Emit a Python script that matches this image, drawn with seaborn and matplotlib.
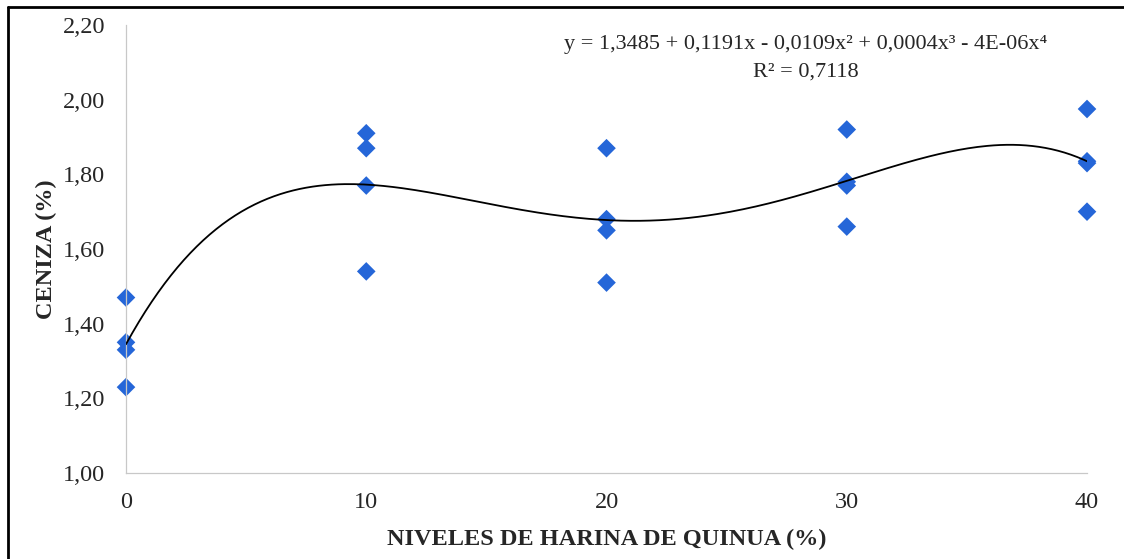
import numpy as np
import pandas as pd
import matplotlib
matplotlib.use("Agg")
import matplotlib.pyplot as plt
import seaborn as sns
from matplotlib.lines import Line2D

# Data
niveles = [0, 0, 0, 0, 10, 10, 10, 10, 20, 20, 20, 20, 30, 30, 30, 30, 40, 40, 40, 40]
ceniza = [1.47, 1.35, 1.33, 1.23,
          1.91, 1.87, 1.77, 1.54,
          1.87, 1.68, 1.65, 1.51,
          1.92, 1.78, 1.77, 1.66,
          1.975, 1.835, 1.83, 1.70]
x_ticks = [0, 10, 20, 30, 40]
y_ticks = [1.00, 1.20, 1.40, 1.60, 1.80, 2.00, 2.20]
equation = "y = 1,3485 + 0,1191x - 0,0109x² + 0,0004x³ - 4E-06x⁴"
r2_text = "R² = 0,7118"
x_label = "NIVELES DE HARINA DE QUINUA (%)"
y_label = "CENIZA (%)"

df = pd.DataFrame({"x": niveles, "y": ceniza})

# polynomial trendline (order 4) fitted to the points
coef = np.polyfit(df["x"], df["y"], 4)
xs = np.linspace(0, 40, 300)
trend = pd.DataFrame({"x": xs, "y": np.polyval(coef, xs)})

sns.set_theme(style="white")
serif = ["Liberation Serif", "DejaVu Serif"]
plt.rcParams["font.family"] = serif

fig = plt.figure(figsize=(11.24, 5.59), dpi=100)
ax = fig.add_axes([0.1121, 0.1538, 0.8550, 0.8015])

sns.lineplot(data=trend, x="x", y="y", ax=ax, color="black", linewidth=1.3, zorder=3)
sns.scatterplot(data=df, x="x", y="y", ax=ax, marker="D", s=90,
                color="#2566D8", edgecolor="none", zorder=2, clip_on=False)

ax.set_xlim(0, 40)
ax.set_ylim(1.0, 2.2)
ax.set_xticks(x_ticks)
ax.set_yticks(y_ticks)
ax.set_xticklabels([str(v) for v in x_ticks], fontsize=17.5, color="#262626")
ax.set_yticklabels([f"{v:.2f}".replace(".", ",") for v in y_ticks], fontsize=17.5, color="#262626")
ax.tick_params(axis="both", length=0)
ax.tick_params(axis="y", pad=15)
ax.tick_params(axis="x", pad=14)

for s in ["top", "right"]:
    ax.spines[s].set_visible(False)
for s in ["left", "bottom"]:
    ax.spines[s].set_color("#C8C8C8")
    ax.spines[s].set_linewidth(0.9)

ax.set_xlabel(x_label, fontsize=17.5, fontweight="bold", labelpad=11)
ax.set_ylabel(y_label, fontsize=17.5, fontweight="bold", labelpad=4)

fig.text(806 / 1124, 1 - 45 / 559, equation, ha="center", va="center", fontsize=16)
fig.text(806 / 1124, 1 - 72 / 559, r2_text, ha="center", va="center", fontsize=16)

# outer frame (left and top edges)
fig.add_artist(Line2D([8 / 1124, 8 / 1124], [0, 1 - 7 / 559], transform=fig.transFigure,
                      color="black", linewidth=2))
fig.add_artist(Line2D([8 / 1124, 1], [1 - 7 / 559, 1 - 7 / 559], transform=fig.transFigure,
                      color="black", linewidth=2))

fig.savefig("out.png", dpi=100)
